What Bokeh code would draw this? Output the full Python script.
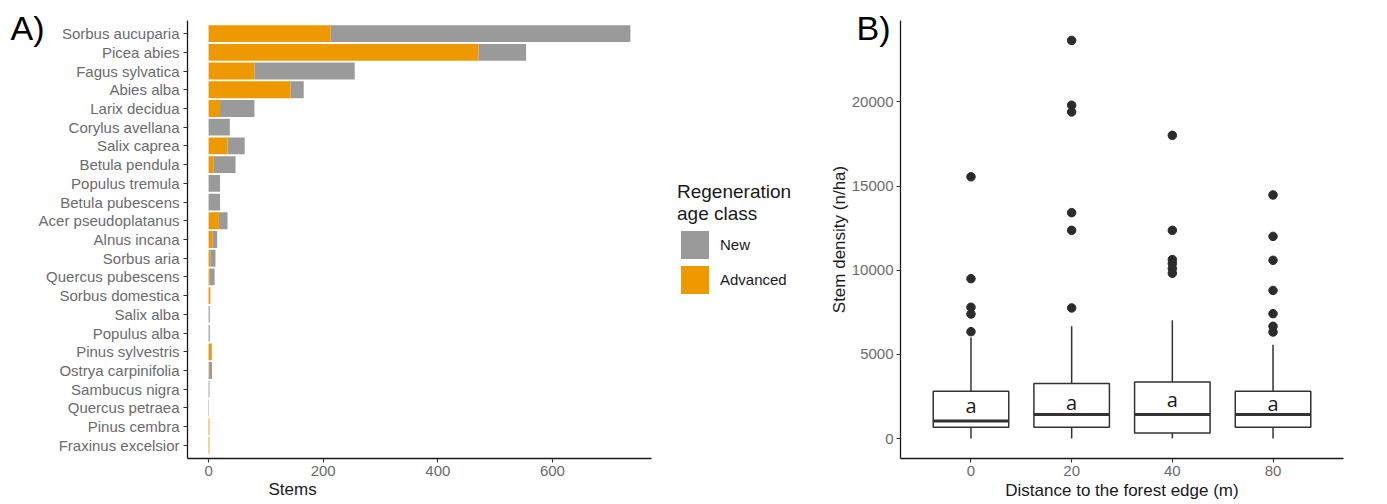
from bokeh.plotting import figure
from bokeh.models import (FactorRange, Range1d, Legend, LegendItem, Title,
                          FixedTicker, ColumnDataSource)
from bokeh.layouts import row
from bokeh.embed import file_html
from bokeh.resources import INLINE
from bokeh.core.properties import value

# ---------------- Panel A data ----------------
species = ["Sorbus aucuparia", "Picea abies", "Fagus sylvatica", "Abies alba",
           "Larix decidua", "Corylus avellana", "Salix caprea", "Betula pendula",
           "Populus tremula", "Betula pubescens", "Acer pseudoplatanus",
           "Alnus incana", "Sorbus aria", "Quercus pubescens", "Sorbus domestica",
           "Salix alba", "Populus alba", "Pinus sylvestris", "Ostrya carpinifolia",
           "Sambucus nigra", "Quercus petraea", "Pinus cembra", "Fraxinus excelsior"]
advanced = [213, 471, 80, 143, 20, 0, 33, 9, 0, 0, 18, 7, 3, 2, 3, 0, 0, 5, 1, 0, 0, 1.5, 1.5]
new = [523, 83, 175, 23, 60, 37, 30, 38, 20, 20, 15, 8, 9, 8.5, 0, 2, 2, 1, 5, 1.5, 0.8, 0, 0]
x_ticks_a = [0, 200, 400, 600]

# ---------------- Panel B data ----------------
distance = ["0", "20", "40", "80"]
q1 = [671, 671, 333, 671]
median = [1045, 1425, 1425, 1425]
q3 = [2809, 3266, 3361, 2809]
whisker_low = [0, 0, 0, 0]
whisker_high = [6000, 6670, 7025, 5580]
letters = ["a", "a", "a", "a"]
letter_y = [1980, 2170, 2315, 2080]
outlier_group = ["0"] * 5 + ["20"] * 6 + ["40"] * 6 + ["80"] * 7
outlier_value = [15550, 9500, 7800, 7400, 6350,
                 23650, 19800, 19400, 13420, 12370, 7760,
                 18010, 12370, 10630, 10400, 10100, 9820,
                 14470, 12010, 10590, 8800, 7420, 6670, 6330]
y_ticks_b = [0, 5000, 10000, 15000, 20000]

ORANGE = "#EE9900"
GREY = "#9A9A9A"
FONT = "Liberation Sans"
TICK_COL = "#6b6b6b"
DARK = "#1a1a1a"


def style_axes(p):
    p.xgrid.visible = False
    p.ygrid.visible = False
    p.outline_line_color = None
    for ax in (p.xaxis[0], p.yaxis[0]):
        ax.axis_line_color = DARK
        ax.axis_line_width = 1.3
        ax.major_tick_line_color = "#333333"
        ax.major_tick_line_width = 1.1
        ax.major_tick_out = 4
        ax.major_tick_in = 0
        ax.minor_tick_line_color = None
        ax.major_label_text_font = FONT
        ax.major_label_text_font_size = "15px"
        ax.major_label_text_color = TICK_COL
        ax.major_label_standoff = 3
        ax.axis_label_text_font = FONT
        ax.axis_label_text_font_size = "17px"
        ax.axis_label_text_font_style = "normal"
        ax.axis_label_text_color = DARK
        ax.axis_label_standoff = 2


def panel_letter(p, text, offset):
    p.title.text = text
    p.title.align = "left"
    p.title.offset = offset
    p.title.vertical_align = "bottom"
    p.title.standoff = -52
    p.title.text_font = FONT
    p.title.text_font_size = "34px"
    p.title.text_font_style = "normal"
    p.title.text_color = "black"


# ---------------- Panel A ----------------
src_a = ColumnDataSource(dict(species=species, advanced=advanced, new=new,
                              total=[a + n for a, n in zip(advanced, new)]))
max_total = max(a + n for a, n in zip(advanced, new))
pad = max_total * 0.05
x_lo, x_hi = -pad, max_total + pad
# the frame also holds the legend: axis spans 464 px of a 639 px frame
x_frame_hi = x_lo + (x_hi - x_lo) * 639.0 / 464.0

p1 = figure(width=826, height=504,
            y_range=FactorRange(factors=species[::-1], range_padding=0.2,
                                range_padding_units="absolute"),
            x_range=Range1d(x_lo, x_frame_hi),
            output_backend="svg", toolbar_location=None,
            min_border_left=187, min_border_right=0,
            min_border_top=20, min_border_bottom=46)
r_adv = p1.hbar(y="species", left=0, right="advanced", height=0.9, source=src_a,
                fill_color=ORANGE, line_color=None)
r_new = p1.hbar(y="species", left="advanced", right="total", height=0.9, source=src_a,
                fill_color=GREY, line_color=None)
style_axes(p1)
p1.xaxis.ticker = FixedTicker(ticks=x_ticks_a)
p1.xaxis.bounds = (x_lo, x_hi)
p1.yaxis.major_label_standoff = 4
panel_letter(p1, "A)", -177)

p1.add_layout(Title(text="Stems", align="left", offset=81, vertical_align="middle",
                    standoff=0, text_font=FONT, text_font_size="17px",
                    text_font_style="normal", text_color=DARK), "below")

legend = Legend(items=[LegendItem(label="New", renderers=[r_new]),
                       LegendItem(label="Advanced", renderers=[r_adv])],
                location=(490, 161), glyph_width=35, glyph_height=35, spacing=-4,
                padding=0, margin=0, label_standoff=8,
                label_text_font=FONT, label_text_font_size="15px",
                label_text_color=DARK, border_line_color=None,
                background_fill_alpha=0,
                title="Regeneration\nage class", title_text_font=FONT,
                title_text_font_size="19px", title_text_font_style="normal",
                title_text_color=DARK, title_standoff=2)
p1.add_layout(legend)

# ---------------- Panel B ----------------
src_b = ColumnDataSource(dict(distance=distance, q1=q1, median=median, q3=q3,
                              lo=whisker_low, hi=whisker_high,
                              letters=letters, letter_y=letter_y))
ymax = max(outlier_value)
ypad = ymax * 0.05

p2 = figure(width=561, height=504,
            x_range=FactorRange(factors=distance, range_padding=0.2,
                                range_padding_units="absolute"),
            y_range=Range1d(-ypad, ymax + ypad),
            output_backend="svg", toolbar_location=None,
            min_border_left=73, min_border_right=44,
            min_border_top=20, min_border_bottom=46)
p2.segment(x0="distance", y0="q3", x1="distance", y1="hi", source=src_b,
           line_color="#333333", line_width=1.5)
p2.segment(x0="distance", y0="q1", x1="distance", y1="lo", source=src_b,
           line_color="#333333", line_width=1.5)
p2.vbar(x="distance", bottom="q1", top="q3", width=0.75, source=src_b,
        fill_color="white", line_color="#333333", line_width=1.5)
p2.rect(x="distance", y="median", width=0.75, height=3, height_units="screen",
        source=src_b, fill_color="#333333", line_color=None)
p2.scatter(x=outlier_group, y=outlier_value, size=8.5, fill_color="#2b2b2b",
           line_color="#2b2b2b")
p2.text(x="distance", y="letter_y", text="letters", source=src_b,
        text_align="center", text_baseline="middle", text_font=value("Open Sans"),
        text_font_size="20px", text_color=DARK)
style_axes(p2)
p2.yaxis.ticker = FixedTicker(ticks=y_ticks_b)
p2.yaxis.axis_label_standoff = 0
p2.xaxis.axis_label = "Distance to the forest edge (m)"
p2.yaxis.axis_label = "Stem density (n/ha)"
panel_letter(p2, "B)", -44)

layout = row(p1, p2)
open("out.html", "w").write(file_html(layout, INLINE))
